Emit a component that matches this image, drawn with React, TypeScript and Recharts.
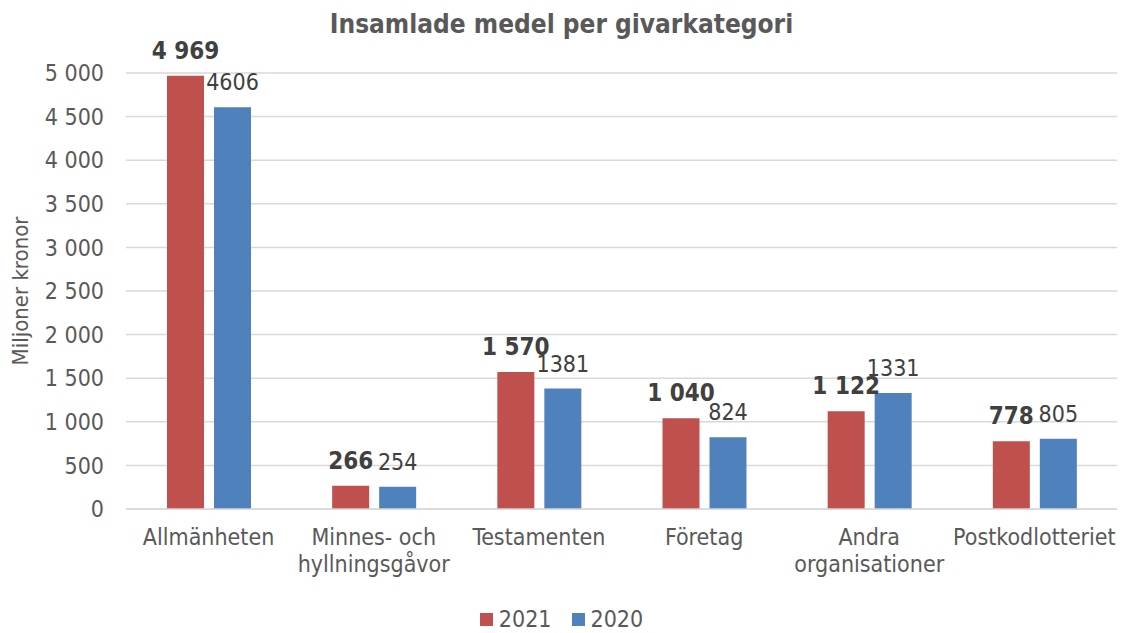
import React from 'react';
import { BarChart, Bar, XAxis, YAxis, CartesianGrid, LabelList } from 'recharts';

const categories = ['Allmänheten', 'Minnes- och\nhyllningsgåvor', 'Testamenten', 'Företag', 'Andra\norganisationer', 'Postkodlotteriet'];
const values2021 = [4969, 266, 1570, 1040, 1122, 778];
const values2020 = [4606, 254, 1381, 824, 1331, 805];
const yTicks = [0, 500, 1000, 1500, 2000, 2500, 3000, 3500, 4000, 4500, 5000];
const seriesNames = ['2021', '2020'];
const seriesColors = ['#C0504D', '#4F81BD'];

const data = categories.map((name, i) => ({ name, y2021: values2021[i], y2020: values2020[i] }));

const FONT = "Tahoma, 'DejaVu Sans Condensed', 'DejaVu Sans', sans-serif";
const TEXT = '#595959';

// space as thousands separator, like the Swedish format in the original
const withSpace = (v: number) => String(v).replace(/\B(?=(\d{3})+(?!\d))/g, ' ');

const XTick = (props: any) => {
  const { x, y, payload } = props;
  const lines = String(payload.value).split('\n');
  return (
    <text x={x} y={y} textAnchor="middle" fill={TEXT} fontSize={23} fontFamily={FONT}>
      {lines.map((l, i) => (
        <tspan key={i} x={x} dy={i === 0 ? 30 : 27}>{l}</tspan>
      ))}
    </text>
  );
};

const makeLabel = (bold: boolean, fmt: (v: number) => string) => (props: any) => {
  const { x, y, width, value } = props;
  return (
    <text
      x={Number(x) + Number(width) / 2}
      y={Number(y) - 17}
      textAnchor="middle"
      fill="#404040"
      fontSize={bold ? 24 : 23}
      fontWeight={bold ? 'bold' : 'normal'}
      fontFamily={FONT}
    >
      {fmt(Number(value))}
    </text>
  );
};

export default function App() {
  return (
    <div style={{ position: 'absolute', left: 0, top: 0, width: 1123, height: 633, background: '#fff', fontFamily: FONT }}>
      <div style={{ position: 'absolute', left: 0, top: 9, width: 1123, textAlign: 'center', fontSize: 26, fontWeight: 'bold', color: TEXT }}>
        Insamlade medel per givarkategori
      </div>
      <BarChart
        width={1123}
        height={633}
        data={data}
        margin={{ top: 73, right: 6, left: 0, bottom: 40 }}
        barSize={37}
        barGap={10}
      >
        <CartesianGrid vertical={false} stroke="#d9d9d9" strokeWidth={1.5} />
        <XAxis
          dataKey="name"
          tick={<XTick />}
          tickLine={false}
          axisLine={{ stroke: '#d9d9d9', strokeWidth: 1.5 }}
          interval={0}
          height={84}
          tickMargin={0}
        />
        <YAxis
          width={126}
          domain={[0, 5000]}
          ticks={yTicks}
          tickFormatter={withSpace}
          tick={{ fill: TEXT, fontSize: 23, fontFamily: FONT }}
          tickLine={false}
          axisLine={false}
          tickSize={0}
          tickMargin={22}
          label={{ value: 'Miljoner kronor', angle: -90, position: 'insideLeft', offset: 20, style: { fill: TEXT, fontSize: 22, fontFamily: FONT, textAnchor: 'middle' } }}
        />
        <Bar dataKey="y2021" name="2021" fill={seriesColors[0]} isAnimationActive={false}>
          <LabelList dataKey="y2021" content={makeLabel(true, withSpace)} />
        </Bar>
        <Bar dataKey="y2020" name="2020" fill={seriesColors[1]} isAnimationActive={false}>
          <LabelList dataKey="y2020" content={makeLabel(false, (v) => String(v))} />
        </Bar>
      </BarChart>
      <div style={{ position: 'absolute', left: 0, top: 606, width: 1123, display: 'flex', justifyContent: 'center', gap: 20, fontSize: 23, color: TEXT }}>
        {seriesNames.map((n, i) => (
          <div key={n} style={{ display: 'flex', alignItems: 'center' }}>
            <span style={{ display: 'inline-block', width: 13, height: 13, background: seriesColors[i], marginRight: 6 }} />
            {n}
          </div>
        ))}
      </div>
    </div>
  );
}
